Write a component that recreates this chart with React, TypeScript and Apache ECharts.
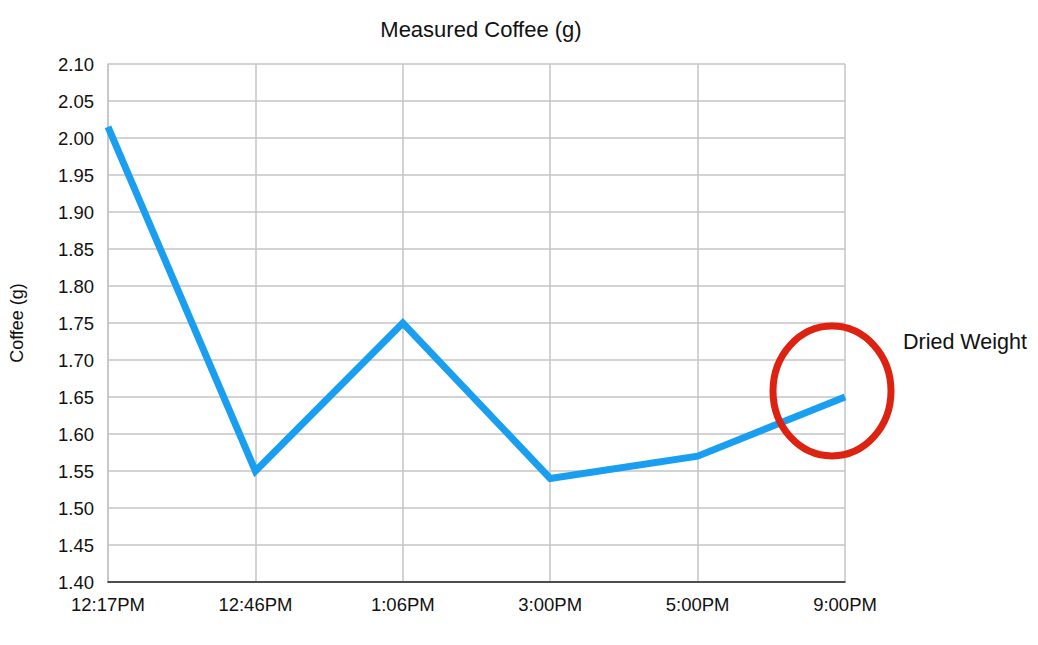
import { useEffect, useRef } from 'react';
import * as echarts from 'echarts';

const categories = ['12:17PM', '12:46PM', '1:06PM', '3:00PM', '5:00PM', '9:00PM'];
const coffee = [2.015, 1.55, 1.75, 1.54, 1.57, 1.65];
const FONT = 'Liberation Sans, Arial, sans-serif';

export default function App() {
  const ref = useRef<HTMLDivElement>(null);

  useEffect(() => {
    document.body.style.margin = '0';
    if (!ref.current) return;
    const chart = echarts.init(ref.current, undefined, { renderer: 'svg' });
    chart.setOption({
      animation: false,
      backgroundColor: '#fff',
      textStyle: { fontFamily: FONT },
      title: {
        text: 'Measured Coffee (g)',
        left: 476,
        top: 13,
        textAlign: 'center',
        textStyle: { fontFamily: FONT, fontSize: 22, fontWeight: 'normal', color: '#111' },
      },
      grid: { left: 107, right: 193, top: 64, bottom: 63 },
      xAxis: {
        type: 'category',
        data: categories,
        boundaryGap: false,
        axisLine: { lineStyle: { color: '#222', width: 1.5 } },
        axisTick: { show: false },
        axisLabel: { color: '#111', fontSize: 18.5, margin: 13, fontFamily: FONT },
        splitLine: { show: true, lineStyle: { color: '#c4c4c4', width: 1.5 } },
      },
      yAxis: {
        type: 'value',
        min: 1.4,
        max: 2.1,
        interval: 0.05,
        name: 'Coffee (g)',
        nameLocation: 'middle',
        nameRotate: 90,
        nameGap: 82,
        nameTextStyle: { color: '#111', fontSize: 18, fontFamily: FONT },
        axisLine: { show: true, lineStyle: { color: '#c4c4c4', width: 1.5 } },
        axisTick: { show: false },
        axisLabel: {
          color: '#111',
          fontSize: 18.5,
          margin: 14,
          fontFamily: FONT,
          formatter: (v: number) => v.toFixed(2),
        },
        splitLine: { lineStyle: { color: '#c4c4c4', width: 1.5 } },
      },
      series: [
        {
          type: 'line',
          data: coffee,
          symbol: 'none',
          lineStyle: { color: '#1a9ff0', width: 7, join: 'miter' },
        },
      ],
      graphic: [
        {
          type: 'ellipse',
          shape: { cx: 832, cy: 391, rx: 59, ry: 65 },
          style: { fill: 'none', stroke: '#dd2211', lineWidth: 7 },
          z: 100,
        },
        {
          type: 'text',
          x: 903,
          y: 331,
          style: { text: 'Dried Weight', fontSize: 21.5, fill: '#111', fontFamily: FONT },
        },
      ],
    });
    return () => chart.dispose();
  }, []);

  return <div ref={ref} style={{ width: 1038, height: 645 }} />;
}
